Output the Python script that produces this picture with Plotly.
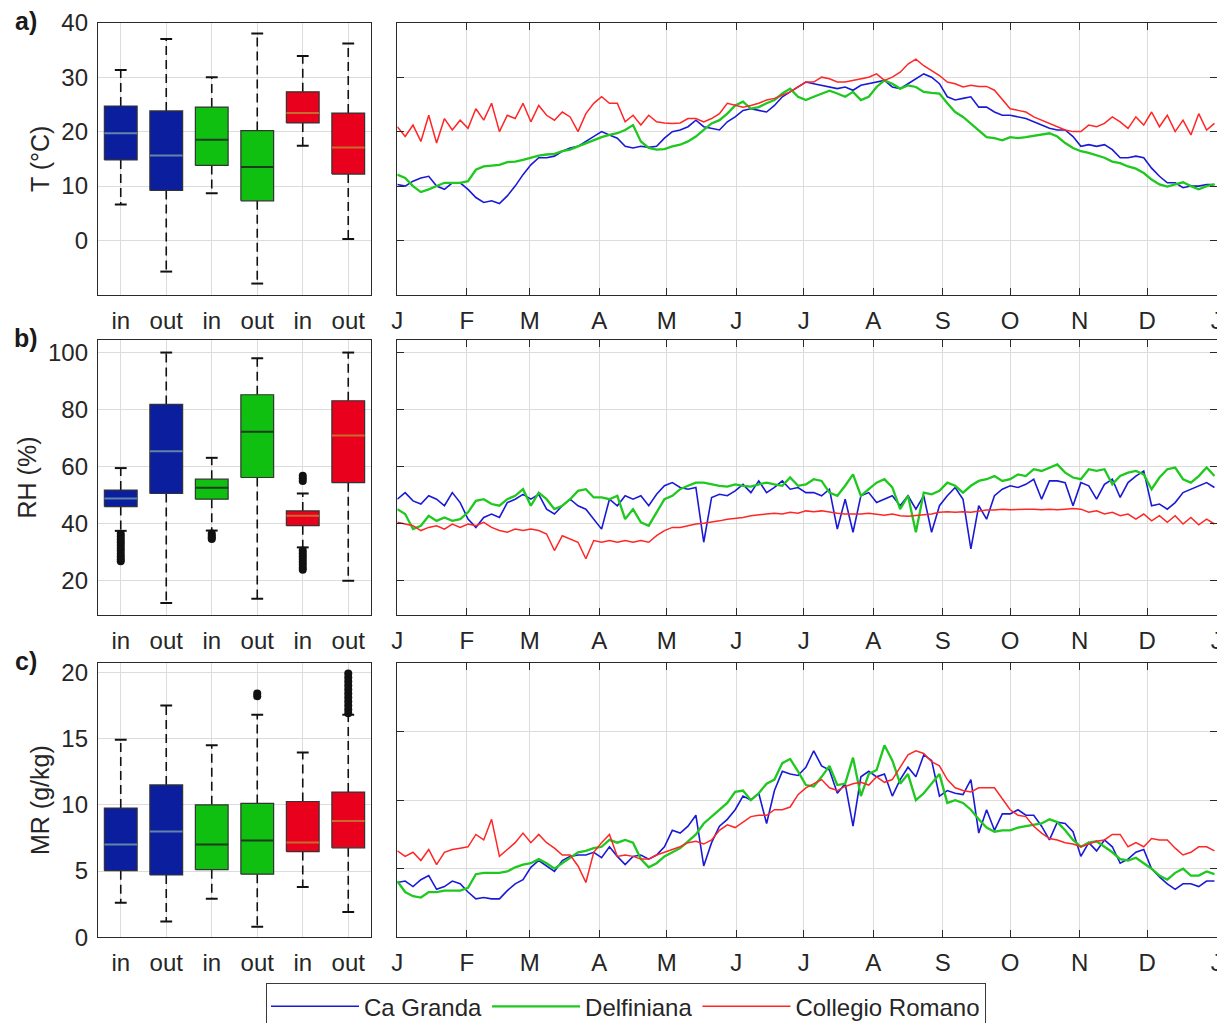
import numpy as np
import pandas as pd
import plotly.graph_objects as go

# ------------------------------------------------------------------ data
stations = ["Ca Granda", "Delfiniana", "Collegio Romano"]
line_colors = ["#1a1ad6", "#1ec81e", "#ff2626"]
box_colors = ["#0a1e9e", "#10c010", "#e8001c"]
median_colors = ["#5f86a8", "#1d3b1d", "#c86a30"]
box_labels = ["in", "out", "in", "out", "in", "out"]
month_labels = ["J", "F", "M", "A", "M", "J", "J", "A", "S", "O", "N", "D", "J"]

# box statistics, order: CaG in, CaG out, Delf in, Delf out, CR in, CR out
T_q1 = [14.8, 9.2, 13.8, 7.3, 21.6, 12.2]
T_med = [19.7, 15.6, 18.5, 13.5, 23.4, 17.1]
T_q3 = [24.7, 23.8, 24.5, 20.2, 27.3, 23.4]
T_lo = [6.6, -5.7, 8.7, -7.9, 17.4, 0.3]
T_hi = [31.3, 37.0, 30.0, 38.0, 33.9, 36.2]

RH_q1 = [46.0, 50.6, 48.6, 56.2, 39.3, 54.4]
RH_med = [48.8, 65.4, 52.6, 72.2, 42.8, 70.9]
RH_q3 = [51.8, 81.8, 55.6, 85.2, 44.5, 83.1]
RH_lo = [37.5, 12.2, 37.6, 13.7, 31.7, 20.0]
RH_hi = [59.5, 100.0, 63.1, 98.0, 50.6, 100.0]

MR_q1 = [5.03, 4.7, 5.1, 4.76, 6.47, 6.75]
MR_med = [7.0, 7.98, 7.0, 7.3, 7.15, 8.77]
MR_q3 = [9.75, 11.5, 10.0, 10.1, 10.25, 10.96]
MR_lo = [2.6, 1.2, 2.9, 0.8, 3.8, 1.9]
MR_hi = [14.9, 17.5, 14.5, 16.8, 13.95, 16.8]

# outliers (box position 1..6, values)
RH_out_pos = [1, 3, 5]
RH_out_CaG_in = [36.5, 35.5, 34.5, 33.5, 32.5, 31.5, 30.5, 29.5, 28.5, 27.5, 26.8]
RH_out_Delf_in = [36.6, 35.8, 35.2, 34.6]
RH_out_CR_in = [56.8, 55.9, 55.0, 30.6, 29.6, 28.6, 27.6, 26.6, 25.6, 24.6, 23.9]
MR_out_pos = [4, 6]
MR_out_Delf_out = [18.2, 18.4]
MR_out_CR_out = [16.9, 17.2, 17.5, 17.8, 18.1, 18.4, 18.7, 19.0, 19.3, 19.6, 19.9]

# time series, one value every 3.5 days from 1 January
start_date = "2015-01-01"
step_days = 3.5

T_CaG = [10.3,10.0,10.9,11.5,11.8,10.0,9.4,10.6,10.6,9.4, 7.9,7.0,7.3,6.8,8.2,10.0,12.1,13.9,15.2,15.2,
         15.5,16.4,17.0,17.3,18.2,19.1,20.0,19.4,18.8,17.3, 17.0,17.3,17.1,17.3,18.8,20.0,20.3,20.9,22.1,20.9,
         20.6,20.3,21.8,22.7,23.9,24.2,23.9,23.6,24.8,26.4, 27.3,28.2,29.1,
         28.8,28.5,28.2,27.9,28.2,27.6,28.5,28.8,29.1,29.4, 28.2,27.9,28.8,29.7,30.6,30.0,28.8,26.4,25.8,26.1,
         26.4,24.5,24.5,23.6,23.0,23.0,22.7,22.4,21.8,21.2, 20.6,20.3,20.3,19.1,17.3,17.6,17.3,17.6,16.7,15.2,
         15.2,15.5,15.2,13.3,11.8,10.6,10.6,9.7,10.0,10.0, 10.3,10.3]
T_Delf = [12.1,11.5,10.0,8.9,9.4,10.0,10.6,10.6,10.6,10.9, 13.0,13.6,13.8,13.9,14.4,14.5,14.8,15.2,15.6,15.8,
          15.9,16.4,16.7,17.3,17.9,18.5,19.0,19.4,19.7,20.3, 21.2,18.2,17.0,16.7,16.8,17.3,17.6,18.2,19.1,20.3,
          21.5,22.1,23.3,24.8,25.5,24.2,24.5,25.2,25.8,27.0, 27.9,26.4,25.8,
          26.4,27.0,27.5,27.0,26.4,27.3,25.8,26.4,28.2,29.4, 28.8,27.9,28.5,28.2,27.3,27.1,27.0,25.2,23.6,22.7,
          21.5,20.3,19.0,18.8,18.4,19.0,18.8,19.0,19.2,19.4, 19.7,19.1,17.9,17.0,16.4,16.1,15.6,15.2,14.5,14.2,
          13.6,13.2,12.4,11.2,10.3,9.9,10.3,10.7,10.0,9.4, 10.0,10.3]
T_CR = [20.9,19.1,21.2,18.2,23.0,17.9,22.4,20.3,22.1,20.6, 24.2,22.1,25.2,20.0,23.0,22.4,25.2,21.8,24.8,23.0,
        22.1,23.6,22.7,20.0,23.3,25.2,26.4,25.2,25.2,21.8, 23.0,21.2,23.0,21.8,21.6,21.5,21.6,22.4,22.4,21.8,
        22.4,23.3,25.2,24.8,24.5,24.8,25.2,25.8,26.1,26.7, 27.3,28.2,29.1,
        29.1,30.0,29.7,29.1,29.1,29.4,29.7,30.0,30.6,29.4, 30.0,30.9,32.4,33.3,32.1,31.2,30.3,29.1,28.8,28.2,
        28.5,28.3,28.3,27.6,25.8,24.2,23.9,23.6,22.7,22.1, 21.5,20.8,20.3,20.0,20.0,21.2,20.9,21.5,22.7,21.8,
        20.6,22.7,21.2,23.6,20.9,23.0,20.0,22.1,19.4,23.3, 20.3,21.5]

RH_CaG = [48.6,50.9,48.0,46.9,49.8,48.6,46.3,50.9,47.4,41.6, 38.7,42.2,43.4,42.2,47.4,48.6,50.3,48.6,50.3,45.1,
          43.4,46.3,48.6,46.3,45.1,41.6,38.1,48.6,46.3,49.8, 48.6,49.8,46.3,50.3,53.3,54.4,52.7,52.1,52.7,33.5,
          49.2,50.3,49.8,51.5,53.8,50.9,55.0,50.9,52.7,55.0, 52.1,52.7,50.9,
          50.9,49.8,52.1,38.1,48.6,37.0,49.8,50.9,47.4,48.6, 49.8,46.3,49.8,45.1,49.8,37.0,46.3,49.8,52.7,48.6,
          31.2,46.3,41.6,49.8,52.1,53.3,52.7,53.8,55.6,48.6, 55.0,55.0,54.4,46.3,54.4,53.3,48.6,53.8,55.6,49.2,
          54.4,56.7,58.5,46.3,46.9,45.1,47.4,50.9,52.1,53.3, 54.4,52.7]
RH_Delf = [45.1,43.4,38.1,39.3,42.8,41.0,42.2,41.0,41.6,44.0, 48.0,48.6,46.9,46.3,48.6,49.8,52.1,46.3,50.9,48.6,
           45.1,46.3,48.6,51.5,52.1,49.2,49.2,48.6,49.8,41.6, 45.1,40.5,39.3,44.0,48.6,49.8,52.1,53.3,54.4,54.4,
           53.8,53.3,53.0,53.8,53.3,53.0,53.8,54.4,53.8,53.3, 56.2,53.3,53.8,
           55.6,55.0,50.9,49.8,53.3,57.3,49.8,52.1,54.4,55.6, 52.7,45.1,49.8,37.0,50.9,50.3,51.5,54.4,53.3,50.9,
           53.3,55.0,55.6,56.7,55.0,55.6,57.3,56.7,59.1,58.5, 59.7,60.8,57.9,56.2,55.6,59.1,58.5,59.1,53.8,56.7,
           57.9,58.5,57.3,52.1,56.2,59.1,59.7,55.6,54.4,56.7, 59.7,56.7]
RH_CR = [40.5,39.9,39.3,37.6,38.7,39.3,38.1,39.9,38.7,39.9, 39.3,40.5,38.7,37.6,37.0,38.1,37.6,38.1,37.6,36.4,
         30.6,35.8,34.7,33.5,27.7,34.1,33.5,34.1,33.5,34.1, 33.5,34.1,33.5,35.8,37.6,38.7,38.7,39.3,39.9,40.2,
         40.5,41.0,41.6,41.9,42.2,42.8,43.0,43.4,43.7,43.4, 44.0,43.7,44.5,
         44.2,44.5,44.0,43.7,43.4,43.4,43.4,43.7,43.4,43.0, 43.4,42.8,42.6,42.8,43.0,43.4,44.0,44.2,44.0,44.2,
         44.0,44.5,44.8,44.8,45.1,44.9,45.1,45.1,45.1,44.9, 45.1,44.9,45.1,45.3,45.1,44.0,44.5,43.4,44.0,42.8,
         43.4,41.6,43.4,41.0,42.8,40.5,42.8,39.9,42.2,39.6, 41.6,39.9]

MR_CaG = [4.0,4.1,3.7,4.2,4.5,3.5,3.7,4.1,3.9,3.3, 2.8,2.9,2.8,2.8,3.4,3.9,4.2,5.1,5.6,5.2,
          4.8,5.6,5.9,6.0,6.0,6.2,5.8,6.6,5.9,5.3, 5.9,6.0,5.7,6.0,6.6,7.8,7.6,8.1,8.9,5.2,
          6.9,8.1,8.6,9.3,10.3,10.0,10.5,8.3,10.7,12.1, 11.9,11.8,12.4,
          13.6,12.5,12.2,10.5,11.2,8.1,11.7,12.1,11.7,11.9, 10.3,11.5,12.4,11.7,13.3,12.9,10.3,10.7,10.5,10.4,
          11.5,7.6,9.3,7.8,9.0,9.0,9.3,8.9,8.9,8.1, 7.1,8.4,8.3,7.7,5.9,6.9,6.3,7.1,6.6,5.4,
          5.7,6.2,6.4,5.0,4.4,3.9,3.5,3.9,3.9,3.7, 4.1,4.1]
MR_Delf = [4.1,3.3,3.0,2.9,3.3,3.3,3.4,3.4,3.4,3.6, 4.6,4.7,4.7,4.7,4.8,5.1,5.3,5.4,5.7,5.4,
           5.0,5.4,5.8,6.2,6.3,6.5,6.6,7.1,6.9,7.1, 6.9,5.7,5.1,5.4,5.9,6.2,6.5,7.0,7.5,8.3,
           8.8,9.3,9.8,10.6,10.7,10.0,10.5,11.2,11.5,12.7, 13.0,12.1,11.1,
           11.0,11.7,12.5,11.1,11.2,13.1,10.3,11.9,12.2,14.0, 12.9,11.2,11.9,10.0,10.5,11.2,11.9,9.8,10.0,9.8,
           9.3,8.6,8.0,7.7,7.8,7.8,8.0,8.1,8.2,8.3, 8.6,8.4,7.8,7.1,6.6,6.9,7.0,6.6,6.2,5.7,
           5.6,5.8,5.4,5.0,4.5,4.2,4.7,5.0,4.5,4.5, 4.8,4.6]
MR_CR = [6.3,5.9,6.2,5.6,6.4,5.3,6.2,6.4,6.5,6.6, 7.5,7.1,8.6,5.9,6.4,6.9,7.6,6.9,7.5,6.9,
         6.5,6.0,6.0,5.2,4.0,6.2,6.9,7.5,5.9,6.0, 5.9,5.7,5.7,6.0,6.2,6.4,6.6,6.9,7.0,6.8,
         7.1,7.8,8.2,8.0,8.4,8.8,8.9,8.9,9.3,9.3, 9.5,10.4,10.9,
         11.2,11.5,10.9,10.7,11.0,11.2,11.3,11.1,11.7,11.3, 11.5,12.4,13.3,13.6,13.4,12.8,12.5,11.5,10.9,10.7,
         10.6,10.9,10.9,10.9,10.1,9.3,8.9,8.8,8.1,7.6, 7.2,7.1,6.9,6.8,6.6,6.8,7.0,7.1,7.5,7.5,
         6.6,6.9,6.6,7.2,7.1,7.1,6.5,6.0,6.2,6.6, 6.6,6.3]

# ------------------------------------------------------------------ figure
# the page body has an 8 px margin, so the figure is offset by 8 px in the window
OX, OY = 8, 8
FW, FH = 1217, 1015
FONT = "Liberation Sans, Arial, Helvetica, sans-serif"
TXT = "#262626"
GRID = "#dcdcdc"


def fx(x):
    return (x - OX) / FW


def fy(y):
    return 1 - (y - OY) / FH


fig = go.Figure()


def dates_for(series):
    return pd.Timestamp(start_date) + pd.to_timedelta(np.arange(len(series)) * step_days, unit="D")


def add_boxes(ax, q1, med, q3, lo, hi, out_pos, out_vals):
    xa, ya = "x" + ax, "y" + ax
    pos = np.arange(1, len(q1) + 1)
    half, cap = 0.36, 0.13
    wx, wy = [], []
    for i, p in enumerate(pos):
        wx += [p, p, None, p, p, None]
        wy += [q3[i], hi[i], None, q1[i], lo[i], None]
    fig.add_trace(go.Scatter(x=wx, y=wy, mode="lines", line=dict(color="#111111", width=1.6, dash="9px,5px"),
                             xaxis=xa, yaxis=ya, showlegend=False, hoverinfo="skip"))
    cx, cy = [], []
    for i, p in enumerate(pos):
        cx += [p - cap, p + cap, None, p - cap, p + cap, None]
        cy += [hi[i], hi[i], None, lo[i], lo[i], None]
    fig.add_trace(go.Scatter(x=cx, y=cy, mode="lines", line=dict(color="#111111", width=2),
                             xaxis=xa, yaxis=ya, showlegend=False, hoverinfo="skip"))
    for i, p in enumerate(pos):
        k = i // 2
        fig.add_trace(go.Scatter(x=[p - half, p + half, p + half, p - half, p - half],
                                 y=[q1[i], q1[i], q3[i], q3[i], q1[i]],
                                 mode="lines", fill="toself", fillcolor=box_colors[k],
                                 line=dict(color="#333333", width=1.2),
                                 xaxis=xa, yaxis=ya, showlegend=False, hoverinfo="skip"))
        fig.add_trace(go.Scatter(x=[p - half, p + half], y=[med[i], med[i]], mode="lines",
                                 line=dict(color=median_colors[k], width=2),
                                 xaxis=xa, yaxis=ya, showlegend=False, hoverinfo="skip"))
    for p, vals in zip(out_pos, out_vals):
        fig.add_trace(go.Scatter(x=[p] * len(vals), y=vals, mode="markers",
                                 marker=dict(color="#111111", size=8, symbol="circle"),
                                 xaxis=xa, yaxis=ya, showlegend=False, hoverinfo="skip"))


def add_lines(ax, series_list, legend):
    widths = [1.6, 2.3, 1.5]
    for k, s in enumerate(series_list):
        fig.add_trace(go.Scatter(x=dates_for(s), y=s, mode="lines", name=stations[k],
                                 line=dict(color=line_colors[k], width=widths[k]),
                                 xaxis="x" + ax, yaxis="y" + ax, showlegend=legend,
                                 legendgroup=stations[k]))


add_boxes("", T_q1, T_med, T_q3, T_lo, T_hi, [], [])
add_lines("2", [T_CaG, T_Delf, T_CR], True)
add_boxes("3", RH_q1, RH_med, RH_q3, RH_lo, RH_hi, RH_out_pos,
          [RH_out_CaG_in, RH_out_Delf_in, RH_out_CR_in])
add_lines("4", [RH_CaG, RH_Delf, RH_CR], False)
add_boxes("5", MR_q1, MR_med, MR_q3, MR_lo, MR_hi, MR_out_pos, [MR_out_Delf_out, MR_out_CR_out])
add_lines("6", [MR_CaG, MR_Delf, MR_CR], False)

# ------------------------------------------------------------------ layout
left_dom = [fx(98), fx(371)]
right_dom = [fx(397.3), fx(1216.7)]
rows_px = [(22.7, 295.0), (340.0, 615.0), (663.0, 937.3)]
row_dom = [[fy(b), fy(t)] for t, b in rows_px]

month_starts = pd.date_range(start_date, periods=13, freq="MS")

base = dict(showline=True, linecolor="#2a2a2a", linewidth=1.3, mirror="ticks", automargin=False,
            showgrid=True, gridcolor=GRID, gridwidth=1, zeroline=False, ticklabeloverflow="allow",
            tickfont=dict(size=24, color=TXT, family=FONT), tickcolor="#2a2a2a")

titles = ["T (°C)", "RH (%)", "MR (g/kg)"]
box_yr = [[-10, 40], [8, 104.4], [0, 20.7]]
line_yr = [[-10, 40], [8, 104.4], [0, 20]]
yticks = [[0, 10, 20, 30, 40], [20, 40, 60, 80, 100], [0, 5, 10, 15, 20]]

layout_axes = {}
for r in range(3):
    nb = 2 * r + 1
    nl = 2 * r + 2
    sb = "" if nb == 1 else str(nb)
    sl = str(nl)
    layout_axes["xaxis" + sb] = dict(base, domain=left_dom, anchor="y" + sb, range=[0.5, 6.5],
                                     tickvals=list(range(1, 7)), ticktext=box_labels, ticks="",
                                     ticklabelstandoff=4)
    layout_axes["yaxis" + sb] = dict(base, domain=row_dom[r], anchor="x" + sb, range=box_yr[r],
                                     tickvals=yticks[r], ticks="", ticklabelstandoff=4,
                                     title=dict(text=titles[r], font=dict(size=25, color=TXT, family=FONT),
                                                standoff=4))
    layout_axes["xaxis" + sl] = dict(base, domain=right_dom, anchor="y" + sl, type="date",
                                     range=[month_starts[0], month_starts[-1]],
                                     tickvals=list(month_starts), ticktext=month_labels,
                                     ticks="inside", ticklen=7, ticklabelstandoff=4)
    layout_axes["yaxis" + sl] = dict(base, domain=row_dom[r], anchor="x" + sl, range=line_yr[r],
                                     tickvals=yticks[r], ticks="inside", ticklen=7,
                                     showticklabels=False)

annotations = []
for lab, (t, b) in zip(["a)", "b)", "c)"], rows_px):
    annotations.append(dict(text="<b>%s</b>" % lab, x=fx(26), y=fy(t - 2), xref="paper", yref="paper",
                            xanchor="center", yanchor="middle", showarrow=False,
                            font=dict(size=25, color="#1a1a1a", family=FONT)))

fig.update_layout(
    width=FW, height=FH, margin=dict(l=0, r=0, t=0, b=0, autoexpand=False),
    paper_bgcolor="white", plot_bgcolor="white",
    font=dict(family=FONT, color=TXT, size=22),
    showlegend=True,
    legend=dict(orientation="h", x=fx(626), xanchor="center", y=fy(983), yanchor="top",
                bordercolor="#3a3a3a", borderwidth=1.2, bgcolor="white",
                font=dict(size=24, color=TXT, family=FONT), itemwidth=88),
    annotations=annotations,
    **layout_axes,
)

fig.write_html("out.html")
